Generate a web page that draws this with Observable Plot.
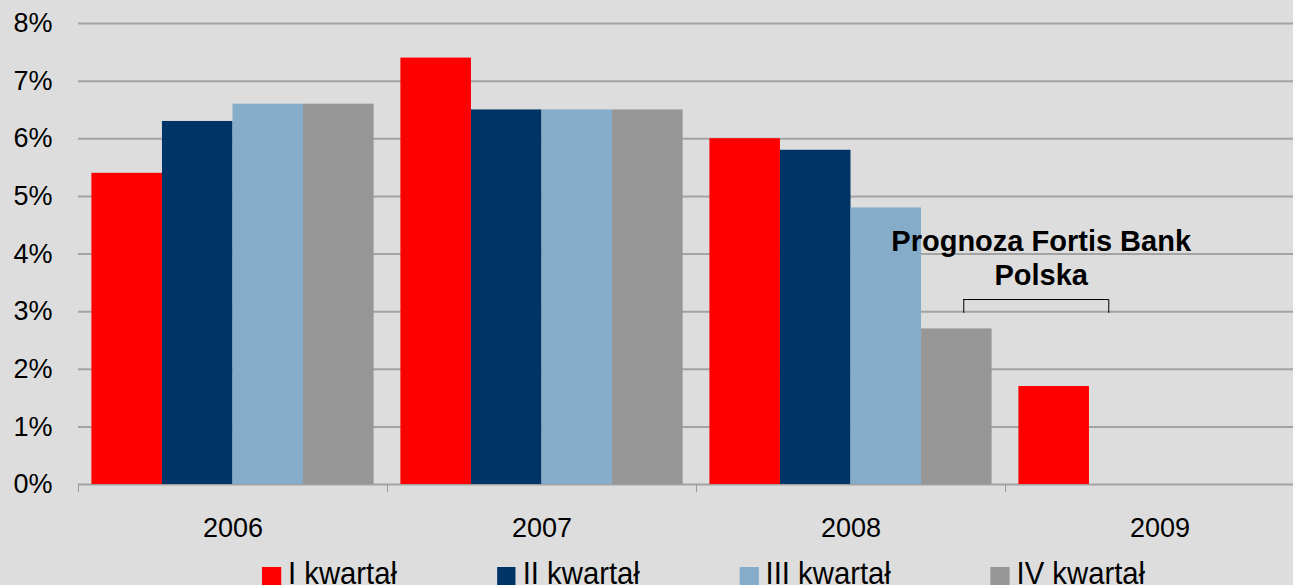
<!DOCTYPE html>
<html><head><meta charset="utf-8">
<script src="https://cdn.jsdelivr.net/npm/d3@7"></script>
<script src="https://cdn.jsdelivr.net/npm/@observablehq/plot@0.6"></script>
<style>
html,body{margin:0;padding:0;background:#dddddd;overflow:hidden;width:1293px;height:585px;font-family:"Liberation Sans",Arial,sans-serif;}
#chart{position:relative;width:1293px;height:585px;}
#legend{position:absolute;left:262px;top:557px;display:flex;transform:scaleX(0.915);transform-origin:0 0;white-space:nowrap;}
.item{display:flex;align-items:flex-start;margin-right:109px;font-size:32px;line-height:32px;color:#000;}
.sw{width:20.8px;height:19px;margin-top:10px;margin-right:7.6px;}
</style></head><body>
<div id="chart"><div id="legend"></div></div>
<script>
const years = ["2006", "2007", "2008", "2009"];
const quarters = ["I kwartał", "II kwartał", "III kwartał", "IV kwartał"];
const q1 = [5.4, 7.4, 6.0, 1.7];
const q2 = [6.3, 6.5, 5.8, null];
const q3 = [6.6, 6.5, 4.8, null];
const q4 = [6.6, 6.5, 2.7, null];
const colors = ["#ff0000", "#003366", "#85acc8", "#969696"];
const yTicks = [0, 1, 2, 3, 4, 5, 6, 7, 8];
const noteText = "Prognoza Fortis Bank\nPolska";

const series = [q1, q2, q3, q4];
const data = [];
years.forEach((yr, i) => series.forEach((s, j) => {
  if (s[i] != null) data.push({year: yr, quarter: quarters[j], value: s[i]});
}));
const note = [{year: "2009", quarter: quarters[0], label: noteText, y: 3.95, top: 3.21, bottom: 2.97}];

const font = '"Liberation Sans", Arial, sans-serif';
const plot = Plot.plot({
  width: 1293, height: 550,
  marginLeft: 78, marginRight: -21, marginTop: 23, marginBottom: 66,
  style: {background: "#dddddd", fontFamily: font, color: "#000"},
  fx: {domain: years, padding: 0, round: false, label: null},
  x: {domain: quarters, paddingInner: 0, paddingOuter: 0.19, round: false, axis: null},
  y: {domain: [0, 8], label: null},
  color: {domain: quarters, range: colors},
  marks: [
    Plot.gridY(yTicks.slice(1), {stroke: "#a3a3a3", strokeOpacity: 1, strokeWidth: 2}),
    Plot.ruleY([0], {stroke: "#a3a3a3", strokeWidth: 2}),
    Plot.axisY(yTicks, {tickSize: 0, tickPadding: 26, tickFormat: d => d + "%", fontSize: 27, fill: "#000"}),
    Plot.axisFx({anchor: "bottom", tickSize: 0, tickPadding: 33, fontSize: 27, fill: "#000", label: null}),
    Plot.axisFx({anchor: "bottom", tickSize: 8, text: null, dx: -154.5, stroke: "#999", label: null}),
    Plot.barY(data, {fx: "year", x: "quarter", y: "value", fill: "quarter"}),
    Plot.text(note, {fx: "year", x: "quarter", y: "y", text: "label", dx: -13, fontSize: 29, fontWeight: "bold", lineHeight: 1.2, fill: "#000"}),
    Plot.ruleY(note, {fx: "year", x1: "quarter", x2: "quarter", y: "top", insetLeft: -55.2, insetRight: -19.3, stroke: "#000", strokeWidth: 1}),
    Plot.ruleX(note, {fx: "year", x: "quarter", y1: "top", y2: "bottom", dx: -90.4, stroke: "#000", strokeWidth: 1}),
    Plot.ruleX(note, {fx: "year", x: "quarter", y1: "top", y2: "bottom", dx: 54.6, stroke: "#000", strokeWidth: 1})
  ]
});
document.getElementById("chart").prepend(plot);

const legend = document.getElementById("legend");
quarters.forEach((q, i) => {
  const item = document.createElement("div");
  item.className = "item";
  const sw = document.createElement("span");
  sw.className = "sw";
  sw.style.background = colors[i];
  const t = document.createElement("span");
  t.textContent = q;
  item.append(sw, t);
  legend.append(item);
});
</script>
</body></html>
